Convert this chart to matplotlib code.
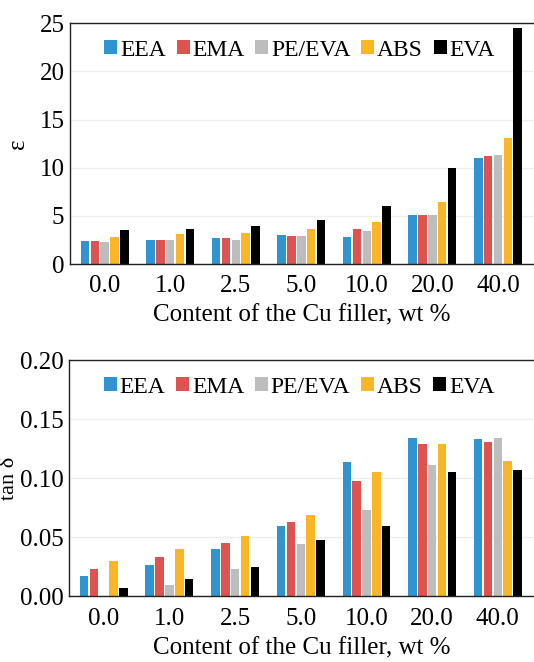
import matplotlib.pyplot as plt
import numpy as np

# Cu filler content, wt %
content = ['0.0', '1.0', '2.5', '5.0', '10.0', '20.0', '40.0']
series = ['EEA', 'EMA', 'PE/EVA', 'ABS', 'EVA']
colors = ['#2f95d2', '#de5350', '#bdbdbd', '#fbb627', '#000000']

# permittivity
eps_eea = [2.45, 2.5, 2.7, 3.0, 2.85, 5.05, 11.0]
eps_ema = [2.45, 2.5, 2.7, 2.9, 3.65, 5.1, 11.2]
eps_peeva = [2.3, 2.5, 2.5, 2.9, 3.45, 5.05, 11.3]
eps_abs = [2.85, 3.1, 3.25, 3.65, 4.4, 6.45, 13.1]
eps_eva = [3.55, 3.65, 4.0, 4.6, 6.0, 10.0, 24.5]

# dielectric loss tangent
tan_eea = [0.017, 0.027, 0.040, 0.060, 0.114, 0.134, 0.133]
tan_ema = [0.023, 0.033, 0.045, 0.063, 0.098, 0.129, 0.131]
tan_peeva = [0.0, 0.010, 0.023, 0.044, 0.073, 0.111, 0.134]
tan_abs = [0.030, 0.040, 0.051, 0.069, 0.105, 0.129, 0.115]
tan_eva = [0.0075, 0.015, 0.025, 0.048, 0.060, 0.105, 0.107]

plt.rcParams['font.family'] = ['Liberation Serif', 'DejaVu Serif']
plt.rcParams['font.size'] = 18

fig = plt.figure(figsize=(5.34, 6.62), dpi=100)
ax1 = fig.add_axes([0.131, 0.601, 0.869, 0.364])
ax2 = fig.add_axes([0.129, 0.099, 0.871, 0.357])

x = np.arange(len(content))
step = 0.15
w = 0.13


def draw(ax, data, ylim, yticks, yfmt, ylabel, lx, lsize, xpad):
  for i, (vals, c, name) in enumerate(zip(data, colors, series)):
    ax.bar(x + (i - 2) * step, vals, w, color=c, label=name, zorder=2)
  ax.set_xlim(-0.53, 6.55)
  ax.set_ylim(*ylim)
  ax.set_yticks(yticks)
  ax.set_yticklabels([yfmt.format(v) for v in yticks])
  ax.set_xticks(x)
  ax.set_xticklabels(content)
  ax.tick_params(axis='y', length=0, pad=4)
  ax.tick_params(axis='x', length=0, pad=8)
  ax.grid(axis='y', color='#eeeeee', lw=1, zorder=0)
  ax.spines['right'].set_visible(False)
  for s in ['left', 'top', 'bottom']:
    ax.spines[s].set_color('#222222')
    ax.spines[s].set_linewidth(1)
  ax.set_xlabel('Content of the Cu filler, wt %', labelpad=xpad)
  ax.set_ylabel(ylabel, fontsize=lsize)
  ax.yaxis.set_label_coords(lx, 0.5)
  ax.legend(ncol=5, loc='upper center', bbox_to_anchor=(0.495, 1.0), frameon=False,
            fontsize=17, handlelength=0.55, handleheight=0.55, handletextpad=0.12,
            columnspacing=0.45, borderaxespad=0.3)


draw(ax1, [eps_eea, eps_ema, eps_peeva, eps_abs, eps_eva], (0, 25),
     [0, 5, 10, 15, 20, 25], '{:g}', 'ε', -0.088, 18, 5)
draw(ax2, [tan_eea, tan_ema, tan_peeva, tan_abs, tan_eva], (0, 0.2),
     [0, 0.05, 0.10, 0.15, 0.20], '{:.2f}', 'tan δ', -0.108, 16, 6)

fig.savefig('out.png', dpi=100)
